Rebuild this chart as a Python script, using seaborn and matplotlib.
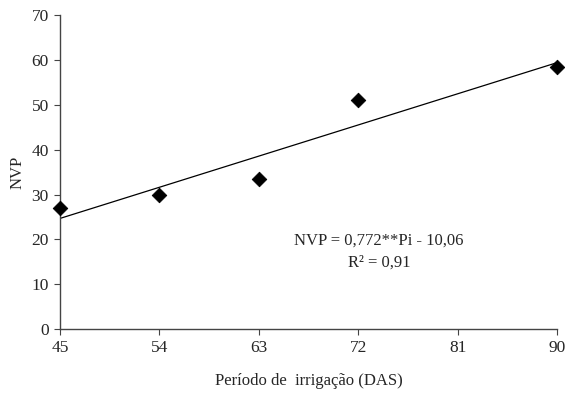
import matplotlib
matplotlib.use("Agg")
import matplotlib.pyplot as plt
import numpy as np
import pandas as pd
import seaborn as sns

dias = [45, 54, 63, 72, 90]
nvp = [27.0, 30.0, 33.5, 51.0, 58.5]
x_ticks = [45, 54, 63, 72, 81, 90]
y_ticks = [0, 10, 20, 30, 40, 50, 60, 70]
coef_a = 0.772
coef_b = -10.06

sns.set_style("ticks")
plt.rcParams["font.family"] = ["Liberation Serif", "DejaVu Serif"]

df = pd.DataFrame({"Dias": dias, "NVP": nvp})

fig = plt.figure(figsize=(5.65, 3.99), dpi=100)
ax = fig.add_axes([0.106, 0.175, 0.88, 0.787])

xl = np.array([45, 90])
sns.lineplot(x=xl, y=coef_a * xl + coef_b, ax=ax, color="black", linewidth=0.9)
sns.scatterplot(data=df, x="Dias", y="NVP", ax=ax, marker="D", color="black", s=55,
                edgecolor="black", zorder=3, clip_on=False)

ax.set_xlim(45, 90)
ax.set_ylim(0, 70)
ax.set_xticks(x_ticks)
ax.set_yticks(y_ticks)
ax.tick_params(axis="both", labelsize=12.5, direction="out", length=4, color="#444444", pad=4)
for s in ["top", "right"]:
    ax.spines[s].set_visible(False)
for s in ["left", "bottom"]:
    ax.spines[s].set_color("#444444")
    ax.spines[s].set_linewidth(1.0)

ax.set_xlabel("Período de  irrigação (DAS)", fontsize=12, labelpad=12)
ax.set_ylabel("NVP", fontsize=12, labelpad=4)

ax.text(73.9, 19.8, "NVP = 0,772**Pi - 10,06", ha="center", va="center", fontsize=12)
ax.text(73.9, 14.9, "R² = 0,91", ha="center", va="center", fontsize=12)

fig.savefig("out.png", dpi=100)
